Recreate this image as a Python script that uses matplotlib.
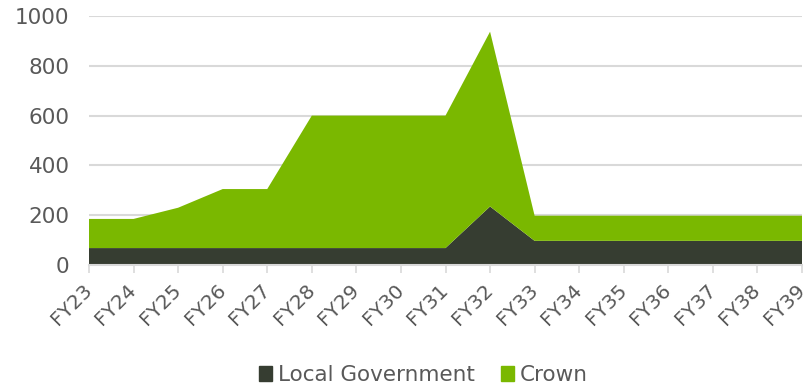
import matplotlib
matplotlib.use("Agg")
import matplotlib.pyplot as plt
from matplotlib.patches import Patch

years = ["FY23", "FY24", "FY25", "FY26", "FY27", "FY28", "FY29", "FY30", "FY31",
         "FY32", "FY33", "FY34", "FY35", "FY36", "FY37", "FY38", "FY39"]
local_gov = [68, 68, 68, 68, 68, 68, 68, 68, 68, 235, 97, 97, 97, 97, 97, 97, 97]
crown = [117, 117, 162, 237, 237, 532, 532, 532, 532, 702, 101, 101, 101, 101, 101, 101, 101]

dark = "#363d31"
green = "#7ab800"
text_col = "#595959"
grid_col = "#d9d9d9"

plt.rcParams["font.family"] = ["DejaVu Sans"]

fig = plt.figure(figsize=(8.05, 3.87), dpi=100)
ax = fig.add_axes([89 / 805, 1 - 265 / 387, (802 - 89) / 805, (265 - 16) / 387])

x = list(range(len(years)))
ax.stackplot(x, local_gov, crown, colors=[dark, green], linewidth=0)

ax.set_xlim(0, len(years) - 1)
ax.set_ylim(0, 1000)
ax.set_yticks(range(0, 1001, 200))
ax.yaxis.grid(True, color=grid_col, linewidth=1.5)
ax.set_axisbelow(True)

for s in ["top", "right", "left"]:
    ax.spines[s].set_visible(False)
ax.spines["bottom"].set_color(grid_col)
ax.spines["bottom"].set_linewidth(1.5)

ax.set_xticks(x)
ax.set_xticklabels(years, rotation=45, ha="right", va="center", rotation_mode="anchor")
ax.tick_params(axis="x", colors=grid_col, length=6, width=1.2, labelcolor=text_col,
               labelsize=14.5, pad=10)
ax.tick_params(axis="y", length=0, labelcolor=text_col, labelsize=15.5, pad=14)

handles = [Patch(color=dark, label="Local Government"), Patch(color=green, label="Crown")]
fig.legend(handles=handles, loc="center", bbox_to_anchor=(0.526, 1 - 375 / 387), ncol=2,
           frameon=False, fontsize=15.5, labelcolor=text_col, handlelength=0.6,
           handleheight=0.7, handletextpad=0.3, columnspacing=1.2)

fig.savefig("out.png", dpi=100)
